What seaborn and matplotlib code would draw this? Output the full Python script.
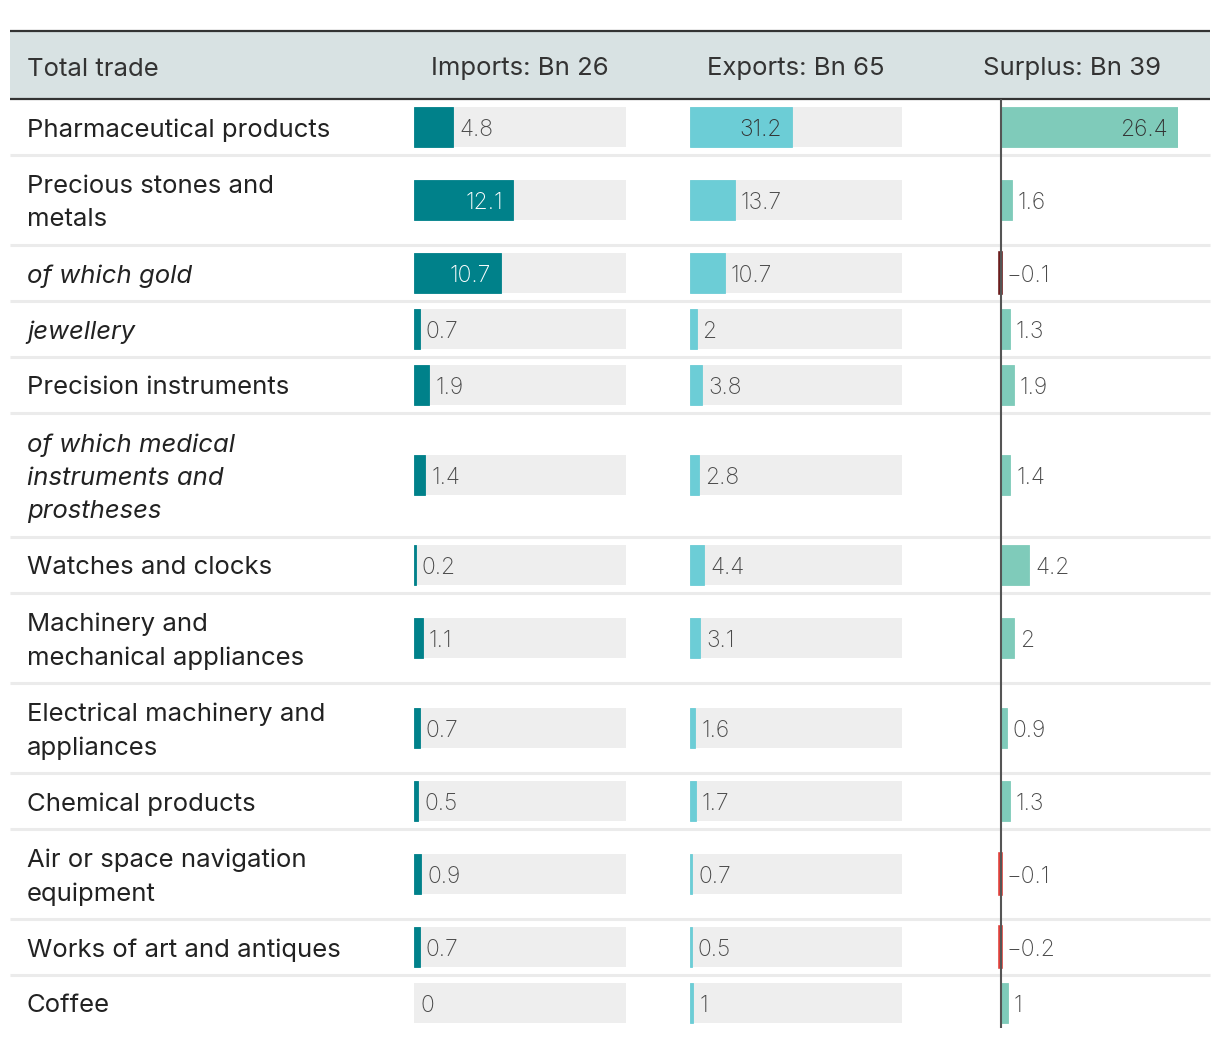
import numpy as np
import pandas as pd
import matplotlib.pyplot as plt
import seaborn as sns
from matplotlib.patches import Rectangle

labels = ["Pharmaceutical products", "Precious stones and\nmetals", "of which gold",
          "jewellery", "Precision instruments",
          "of which medical\ninstruments and\nprostheses", "Watches and clocks",
          "Machinery and\nmechanical appliances", "Electrical machinery and\nappliances",
          "Chemical products", "Air or space navigation\nequipment",
          "Works of art and antiques", "Coffee"]
italic_rows = [False, False, True, True, False, True, False, False, False, False, False, False, False]
imports = [4.8, 12.1, 10.7, 0.7, 1.9, 1.4, 0.2, 1.1, 0.7, 0.5, 0.9, 0.7, 0]
exports = [31.2, 13.7, 10.7, 2, 3.8, 2.8, 4.4, 3.1, 1.6, 1.7, 0.7, 0.5, 1]
surplus = [26.4, 1.6, -0.1, 1.3, 1.9, 1.4, 4.2, 2, 0.9, 1.3, -0.1, -0.2, 1]
headers = ["Total trade", "Imports: Bn 26", "Exports: Bn 65", "Surplus: Bn 39"]
total_imports = 26
total_exports = 65
highlight_row = "of which gold"

sns.set_theme(style="white")
plt.rcParams['font.family'] = ['Inter', 'DejaVu Sans']

W, H = 1220, 1040
fig = plt.figure(figsize=(W / 100, H / 100), dpi=100)

# row geometry from the number of label lines
nlines = [l.count("\n") + 1 for l in labels]
heights = [22 + 34 * n for n in nlines]
top = 99
edges = top + np.concatenate([[0], np.cumsum(heights)])
centers = (edges[:-1] + edges[1:]) / 2
bar_h = 40
width = bar_h / np.min(np.diff(centers))
tdy = 3  # text sits a touch lower than the geometric centre

df = pd.DataFrame({"label": labels, "imports": imports, "exports": exports,
                   "surplus": surplus, "y": centers})
df["bg_imp"] = total_imports
df["bg_exp"] = total_exports
df["sign"] = np.where(df["surplus"] >= 0, "pos", "neg")
df.loc[(df["label"] == highlight_row) & (df["surplus"] < 0), "sign"] = "neg_dark"

# background / table axes in pixel units
bg = fig.add_axes([0, 0, 1, 1])
bg.set_xlim(0, W)
bg.set_ylim(H, 0)
bg.axis('off')
bg.add_patch(Rectangle((10, 31), 1200, 68, color='#d8e2e3', lw=0))
bg.hlines([31, 99], 10, 1210, color='#333333', lw=1.6)
bg.hlines(edges[1:-1], 10, 1210, color='#ebebeb', lw=2.2)

bg.text(27, 66 + tdy, headers[0], va='center', ha='left', fontsize=18.5, color='#333333')
for lab, yc, it in zip(labels, centers, italic_rows):
    bg.text(27, yc + tdy, lab, va='center', ha='left', fontsize=18.5, color='#222222',
            linespacing=1.56, style='italic' if it else 'normal')

cols = [
    (414, 626, (0, total_imports), "imports", headers[1], '#00818a', 'white'),
    (690, 902, (0, total_exports), "exports", headers[2], '#6ccdd6', '#333333'),
    (966, 1178, (-5.2, 26.4), "surplus", headers[3], None, '#333333'),
]
pal = {"pos": '#7fcbba', "neg": '#e0403a', "neg_dark": '#6b1a1a'}

for x0, x1, xlim, key, head, color, inside_col in cols:
    ax = fig.add_axes([x0 / W, 0, (x1 - x0) / W, 1])
    if key == "imports":
        sns.barplot(data=df, x="bg_imp", y="y", orient='y', native_scale=True,
                    color='#eeeeee', width=width, errorbar=None, ax=ax, saturation=1,
                    linewidth=0)
    elif key == "exports":
        sns.barplot(data=df, x="bg_exp", y="y", orient='y', native_scale=True,
                    color='#eeeeee', width=width, errorbar=None, ax=ax, saturation=1,
                    linewidth=0)
    n_bg = len(ax.patches)
    if key == "surplus":
        sns.barplot(data=df, x=key, y="y", hue="sign", palette=pal, orient='y',
                    native_scale=True, width=width, errorbar=None, ax=ax,
                    legend=False, saturation=1, dodge=False)
        ax.vlines(0, 99, 1028, color='#555555', lw=1.5, zorder=5)
    else:
        sns.barplot(data=df, x=key, y="y", orient='y', native_scale=True,
                    color=color, width=width, errorbar=None, ax=ax, saturation=1)
    # thin edge in the fill colour keeps the tiny bars visible
    for p in ax.patches[n_bg:]:
        w = p.get_width()
        p.set_edgecolor(p.get_facecolor())
        if w == 0:
            p.set_linewidth(0)
        elif w < 0:
            p.set_linewidth(2.6)
        else:
            p.set_linewidth(0.6)
    ax.set_xlim(*xlim)
    ax.set_ylim(H, 0)
    ax.axis('off')

    ppu = (x1 - x0) / (xlim[1] - xlim[0])
    bg.text((x0 + x1) / 2, 66 + tdy, head, va='center', ha='center', fontsize=18.5,
            color='#333333')
    for v, yc in zip(df[key], centers):
        txt = f"{v:g}".replace("-", "\u2212")
        if abs(v) * ppu > 60:
            ax.annotate(txt, (v, yc + tdy), xytext=(-10 * 0.72, 0), textcoords='offset points',
                        ha='right', va='center', fontsize=16.5, color=inside_col,
                        fontweight='light')
        else:
            ax.annotate(txt, (max(v, 0), yc + tdy), xytext=(6 * 0.72, 0),
                        textcoords='offset points', ha='left', va='center',
                        fontsize=16.5, color='#4a4a4a', fontweight='light')

fig.savefig("out.png", dpi=100)
